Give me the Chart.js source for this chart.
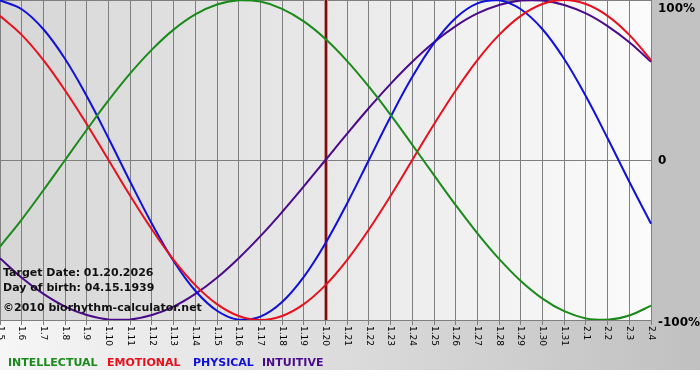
<!DOCTYPE html>
<html>
<head>
<meta charset="utf-8">
<title>Biorhythm</title>
<script src="https://cdn.jsdelivr.net/npm/chart.js@4"></script>
<style>
  html, body { margin: 0; padding: 0; background: #fff; }
  #wrap { width: 700px; height: 380px; }
</style>
</head>
<body>
<div id="wrap"><canvas id="bioChart" width="700" height="380"></canvas></div>
<script>
const dayLabels = ['1.5', '1.6', '1.7', '1.8', '1.9', '1.10', '1.11', '1.12', '1.13', '1.14', '1.15', '1.16',
  '1.17', '1.18', '1.19', '1.20', '1.21', '1.22', '1.23', '1.24', '1.25', '1.26', '1.27', '1.28', '1.29',
  '1.30', '1.31', '2.1', '2.2', '2.3', '2.4'];

const intellectual = [-54.1, -37.2, -18.9, 0, 18.9, 37.2, 54.1, 69.0, 81.5, 91.0, 97.2, 99.9, 99.0, 94.5, 86.6,
  75.6, 61.8, 45.8, 28.2, 9.5, -9.5, -28.2, -45.8, -61.8, -75.6, -86.6, -94.5, -99.0, -99.9, -97.2, -91.0];
const emotional = [90.1, 78.2, 62.4, 43.4, 22.3, 0, -22.3, -43.4, -62.4, -78.2, -90.1, -97.5, -100, -97.5, -90.1,
  -78.2, -62.4, -43.4, -22.3, 0, 22.3, 43.4, 62.4, 78.2, 90.1, 97.5, 100, 97.5, 90.1, 78.2, 62.4];
const physical = [99.8, 94.2, 81.7, 63.1, 39.8, 13.6, -13.6, -39.8, -63.1, -81.7, -94.2, -99.8, -97.9, -88.8, -73.1,
  -52.0, -27.0, 0, 27.0, 52.0, 73.1, 88.8, 97.9, 99.8, 94.2, 81.7, 63.1, 39.8, 13.6, -13.6, -39.8];
const intuitive = [-61.4, -73.6, -83.7, -91.6, -96.9, -99.7, -99.7, -96.9, -91.6, -83.7, -73.6, -61.4, -47.6, -32.5, -16.5,
  0, 16.5, 32.5, 47.6, 61.4, 73.6, 83.7, 91.6, 96.9, 99.7, 99.7, 96.9, 91.6, 83.7, 73.6, 61.4];

const yTicks = [100, 0, -100];
const yTickText = ['100%', '0', '-100%'];
const targetDay = '1.20';
const infoLines = ['Target Date: 01.20.2026', 'Day of birth: 04.15.1939', '\u00A92010 biorhythm-calculator.net'];

const seriesNames = ['INTELLECTUAL', 'EMOTIONAL', 'PHYSICAL', 'INTUITIVE'];
const seriesColors = ['#1b8a1b', '#e8101c', '#1010d8', '#4a0a8a'];

const bold = 'bold 11px "DejaVu Sans", Verdana, sans-serif';

// backgrounds: grey frame, fading bottom strip, light plot gradient
const backdrop = {
  id: 'backdrop',
  beforeDraw(chart) {
    const { ctx, chartArea: a, width, height } = chart;
    ctx.save();
    ctx.fillStyle = '#ffffff';
    ctx.fillRect(0, 0, width, height);
    let g = ctx.createLinearGradient(0, 0, width, 0);
    g.addColorStop(0, '#f6f6f6');
    g.addColorStop(1, '#c0c0c0');
    ctx.fillStyle = g;
    ctx.fillRect(0, a.bottom, width, 370 - a.bottom);
    ctx.fillStyle = '#c2c2c2';
    ctx.fillRect(a.right, 0, width - a.right, a.bottom);
    g = ctx.createLinearGradient(a.left, 0, a.right, 0);
    g.addColorStop(0, '#d6d6d6');
    g.addColorStop(1, '#fbfbfb');
    ctx.fillStyle = g;
    ctx.fillRect(a.left, a.top, a.right - a.left, a.bottom - a.top);
    ctx.restore();
  },
  beforeDatasetsDraw(chart) {
    const { ctx, chartArea: a } = chart;
    const x = Math.round(chart.scales.x.getPixelForValue(dayLabels.indexOf(targetDay)));
    ctx.save();
    ctx.fillStyle = '#c89090';
    ctx.fillRect(x - 2, a.top, 4, a.bottom - a.top);
    ctx.fillStyle = '#7a1010';
    ctx.fillRect(x - 1, a.top, 2, a.bottom - a.top);
    ctx.restore();
  },
  afterDraw(chart) {
    const { ctx, chartArea: a } = chart;
    const xs = chart.scales.x, ys = chart.scales.y;
    ctx.save();
    // day labels, turned clockwise
    ctx.fillStyle = '#000';
    ctx.font = '9px "DejaVu Sans", Verdana, sans-serif';
    ctx.textAlign = 'left';
    ctx.textBaseline = 'middle';
    dayLabels.forEach((lab, i) => {
      ctx.save();
      ctx.translate(xs.getPixelForValue(i), a.bottom + 6);
      ctx.rotate(Math.PI / 2);
      ctx.fillText(lab, 0, 0);
      ctx.restore();
    });
    // percent labels on the right
    ctx.font = 'bold 12px "DejaVu Sans", Verdana, sans-serif';
    yTicks.forEach((v, i) => {
      let y = ys.getPixelForValue(v);
      if (i === 0) y += 8;
      if (i === 2) y += 2;
      ctx.fillText(yTickText[i], a.right + 7, y + 1);
    });
    // info text
    ctx.font = bold;
    ctx.textBaseline = 'alphabetic';
    ctx.fillStyle = '#111';
    [276, 291, 311].forEach((y, i) => ctx.fillText(infoLines[i], 3, y));
    // legend
    const lx = [8, 107, 193, 262];
    seriesNames.forEach((n, i) => {
      ctx.fillStyle = seriesColors[i];
      ctx.fillText(n, lx[i], 366);
    });
    ctx.restore();
  }
};

function line(label, data, color) {
  return { label, data, borderColor: color, borderWidth: 2, pointRadius: 0, tension: 0.4, fill: false };
}

new Chart(document.getElementById('bioChart'), {
  type: 'line',
  data: {
    labels: dayLabels,
    datasets: [
      line('Intellectual', intellectual, seriesColors[0]),
      line('Emotional', emotional, seriesColors[1]),
      line('Physical', physical, seriesColors[2]),
      line('Intuitive', intuitive, seriesColors[3])
    ]
  },
  options: {
    responsive: false,
    animation: false,
    layout: { padding: 0 },
    plugins: { legend: { display: false }, tooltip: { enabled: false } },
    scales: {
      x: {
        offset: false,
        ticks: { display: false },
        grid: { color: '#7f7f7f', lineWidth: 1, drawTicks: true, tickLength: 5 },
        border: { display: false },
        afterFit(s) { s.height = 60; }
      },
      y: {
        position: 'right',
        min: -100,
        max: 100,
        ticks: { display: false, stepSize: 100 },
        grid: { color: '#7f7f7f', drawTicks: false },
        border: { display: false },
        afterFit(s) { s.width = 49; }
      }
    }
  },
  plugins: [backdrop]
});
</script>
</body>
</html>
